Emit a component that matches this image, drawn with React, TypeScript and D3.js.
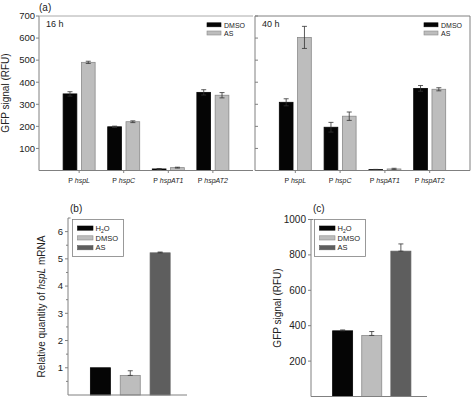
import React from 'react';
import * as d3 from 'd3';

const promoters = ['hspL', 'hspC', 'hspAT1', 'hspAT2'];
const dmso16 = [347, 198, 7, 354];
const dmso16Err = [10, 3, 2, 12];
const as16 = [490, 221, 13, 341];
const as16Err = [5, 4, 2, 12];
const dmso40 = [309, 196, 4, 372];
const dmso40Err = [16, 22, 1, 13];
const as40 = [603, 246, 7, 368];
const as40Err = [50, 19, 3, 7];
const yTicksA = [100, 200, 300, 400, 500, 600, 700];

const treatments = ['H2O', 'DMSO', 'AS'];
const mrna = [1.0, 0.72, 5.22];
const mrnaErr = [0, 0.17, 0.03];
const yTicksB = [1, 2, 3, 4, 5, 6];
const gfp = [371, 345, 821];
const gfpErr = [5, 22, 41];
const yTicksC = [200, 400, 600, 800, 1000];

const FONT = '"Liberation Sans", Arial, Helvetica, sans-serif';
const AXIS = '#808080';
const TEXT = '#222';
const BLACK = '#050505';
const LIGHT = '#bdbdbd';
const DARK = '#5e5e5e';
const colorsA: Record<string, string> = { DMSO: BLACK, AS: LIGHT };
const colorsBC = [BLACK, LIGHT, DARK];

function ErrBar({ x, y0, y1, cap = 2.5, color = '#333' }: any) {
  return (
    <g stroke={color} strokeWidth={0.8}>
      <line x1={x} x2={x} y1={y0} y2={y1} />
      <line x1={x - cap} x2={x + cap} y1={y0} y2={y0} />
      <line x1={x - cap} x2={x + cap} y1={y1} y2={y1} />
    </g>
  );
}

function PanelA({ x0, x1, dm, dmErr, as, asErr, title, left }: any) {
  const y = d3.scaleLinear().domain([0, 700]).range([170.5, 16]);
  const x = d3.scalePoint<string>().domain(promoters).range([x0, x1]).padding(0.9);
  const sub = d3.scaleBand<string>().domain(['DMSO', 'AS']).range([-16, 16]).paddingInner(0.25);
  const series = [
    { key: 'DMSO', vals: dm, errs: dmErr },
    { key: 'AS', vals: as, errs: asErr },
  ];
  const yb = y(0);
  return (
    <g>
      {series.map((s) =>
        promoters.map((p, i) => {
          const bx = (x(p) as number) + (sub(s.key) as number);
          const bw = sub.bandwidth();
          const top = y(s.vals[i]);
          return (
            <g key={s.key + p}>
              <rect x={bx} y={top} width={bw} height={yb - top} fill={colorsA[s.key]}
                stroke={s.key === 'AS' ? '#8a8a8a' : BLACK} strokeWidth={0.8} />
              <ErrBar x={bx + bw / 2} y0={y(s.vals[i] + s.errs[i])} y1={y(Math.max(0, s.vals[i] - s.errs[i]))} />
            </g>
          );
        })
      )}
      {/* axes */}
      <line x1={x0} x2={x0} y1={16} y2={yb} stroke={AXIS} strokeWidth={1} />
      <line x1={x0} x2={x1} y1={yb} y2={yb} stroke={AXIS} strokeWidth={1} />
      <line x1={x0} x2={x1} y1={16} y2={16} stroke={left ? '#aaaaaa' : AXIS} strokeWidth={1} />
      {!left && <line x1={x1} x2={x1} y1={16} y2={yb} stroke={AXIS} strokeWidth={1} />}
      {yTicksA.map((t) => (
        <g key={t}>
          {left ? (
            <>
              <line x1={x0 - 3} x2={x0} y1={y(t)} y2={y(t)} stroke={AXIS} />
              <text x={x0 - 4} y={y(t) + 3.3} fontSize={9.5} textAnchor="end" fill={TEXT} fontFamily={FONT}>{t}</text>
            </>
          ) : (
            <line x1={x0} x2={x0 + 3} y1={y(t)} y2={y(t)} stroke={AXIS} />
          )}
        </g>
      ))}
      {promoters.map((p) => (
        <g key={p}>
          <line x1={x(p)} x2={x(p)} y1={yb} y2={yb + 2.5} stroke={AXIS} />
          <text x={x(p)} y={183} fontSize={7} textAnchor="middle" fill={TEXT} fontFamily={FONT}>
            P <tspan fontStyle="italic">{p}</tspan>
          </text>
        </g>
      ))}
      <text x={x0 + 7} y={26.5} fontSize={9} fill={TEXT} fontFamily={FONT}>{title}</text>
      {/* legend */}
      {['DMSO', 'AS'].map((k, i) => (
        <g key={k}>
          <rect x={x1 - 46} y={22.8 + i * 8.2} width={14} height={4} fill={colorsA[k]}
            stroke={k === 'AS' ? '#8a8a8a' : BLACK} strokeWidth={0.6} />
          <text x={x1 - 29} y={27.6 + i * 8.2} fontSize={7} fill={TEXT} fontFamily={FONT}>{k}</text>
        </g>
      ))}
    </g>
  );
}

function LegendBC({ x, y }: any) {
  return (
    <g>
      <rect x={x} y={y} width={51} height={37} fill="white" stroke={AXIS} strokeWidth={0.8} />
      {treatments.map((t, i) => (
        <g key={t}>
          <rect x={x + 5} y={y + 6.5 + i * 9.8} width={15.5} height={4.2} fill={colorsBC[i]} stroke={i === 1 ? '#8a8a8a' : colorsBC[i]} strokeWidth={0.6} />
          <text x={x + 23} y={y + 11.3 + i * 9.8} fontSize={7.5} fill={TEXT} fontFamily={FONT}>
            {t === 'H2O' ? (<>H<tspan fontSize={5} dy={2}>2</tspan><tspan dy={-2}>O</tspan></>) : t}
          </text>
        </g>
      ))}
    </g>
  );
}

function PanelBC({ ax, axEnd, yScale, ticks, vals, errs, minor, tickFont, label, labelX, tag, legendX }: any) {
  const yb = yScale.range()[0];
  const ytop = yScale.range()[1];
  const x = d3.scalePoint<string>().domain(treatments).range([ax + 2.5, axEnd + 3]).padding(1);
  const bw = 20;
  return (
    <g>
      {treatments.map((t, i) => {
        const cx = x(t) as number;
        const top = yScale(vals[i]);
        return (
          <g key={t}>
            <rect x={cx - bw / 2} y={top} width={bw} height={yb - top} fill={colorsBC[i]}
              stroke={i === 1 ? '#8a8a8a' : colorsBC[i]} strokeWidth={0.8} />
            {errs[i] > 0 && <ErrBar x={cx} y0={yScale(vals[i] + errs[i])} y1={top} cap={2.5} />}
          </g>
        );
      })}
      <line x1={ax} x2={ax} y1={ytop} y2={yb} stroke={AXIS} />
      <line x1={ax} x2={ax + 2.5} y1={ytop} y2={ytop} stroke={AXIS} />
      <line x1={ax} x2={axEnd} y1={yb} y2={yb} stroke={AXIS} />
      {ticks.map((t: number) => (
        <g key={t}>
          <line x1={ax - 3} x2={ax} y1={yScale(t)} y2={yScale(t)} stroke={AXIS} />
          <text x={ax - 5} y={yScale(t) + 3.4} fontSize={tickFont} textAnchor="end" fill={TEXT} fontFamily={FONT}>{t}</text>
        </g>
      ))}
      {minor.map((t: number) => (
        <line key={'m' + t} x1={ax - 2} x2={ax} y1={yScale(t)} y2={yScale(t)} stroke={AXIS} />
      ))}
      <text transform={`translate(${labelX},${(yb + ytop) / 2}) rotate(-90)`} fontSize={10} textAnchor="middle" fill={TEXT} fontFamily={FONT}>
        {label}
      </text>
      <text x={ax + 2} y={211.5} fontSize={10} fill={TEXT} fontFamily={FONT}>{tag}</text>
      <LegendBC x={legendX} y={219.5} />
    </g>
  );
}

export default function App() {
  const yB = d3.scaleLinear().domain([0, 6.5]).range([395, 218]);
  const yC = d3.scaleLinear().domain([0, 1000]).range([396.5, 219.5]);
  return (
    <svg width={472} height={401} style={{ position: 'absolute', left: 0, top: 0, background: 'white' }}>
      <rect x={0} y={0} width={472} height={401} fill="white" />
      <text x={39} y={11} fontSize={10} fill={TEXT} fontFamily={FONT}>(a)</text>
      <text transform={`translate(9,93) rotate(-90)`} fontSize={10} textAnchor="middle" fill={TEXT} fontFamily={FONT}>GFP signal (RFU)</text>
      <PanelA x0={39} x1={253} dm={dmso16} dmErr={dmso16Err} as={as16} asErr={as16Err} title="16 h" left={true} />
      <PanelA x0={255} x1={470} dm={dmso40} dmErr={dmso40Err} as={as40} asErr={as40Err} title="40 h" left={false} />
      <PanelBC ax={68} axEnd={187} yScale={yB} ticks={yTicksB} vals={mrna} errs={mrnaErr}
        minor={[0.5, 1.5, 2.5, 3.5, 4.5, 5.5]} tickFont={9.5}
        label={<>Relative quantity of <tspan fontStyle="italic">hspL</tspan> mRNA</>} labelX={45}
        tag="(b)" legendX={72.5} />
      <PanelBC ax={311} axEnd={427} yScale={yC} ticks={yTicksC} vals={gfp} errs={gfpErr}
        minor={[]} tickFont={10}
        label="GFP signal (RFU)" labelX={281}
        tag="(c)" legendX={314.5} />
    </svg>
  );
}
